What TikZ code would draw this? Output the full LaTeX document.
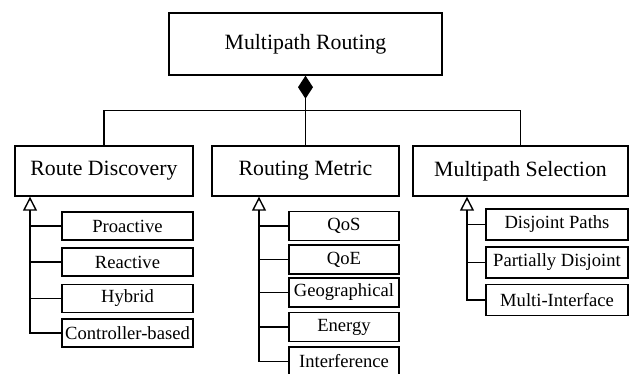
\documentclass[tikz,border=0pt]{standalone}
\usepackage{fontspec}
\setmainfont{Liberation Serif}
\usetikzlibrary{arrows.meta}
\tikzset{
  base/.style={draw, line width=1.4pt, inner sep=0pt, align=center},
  bigbox/.style={base, font=\fontsize{21.8}{26}\selectfont},
  leaf/.style={base, font=\fontsize{18.6}{22}\selectfont},
  wire/.style={line width=1.4pt},
  inherit/.style={wire, -{Triangle[open, length=14pt, width=14pt]}},
  compose/.style={wire, {Diamond[length=23pt, width=15pt]}-}
}
\begin{document}
\begin{tikzpicture}[x=1pt, y=-1pt]
\useasboundingbox (0,0) rectangle (630,373);

% root
\node[bigbox, minimum width=273pt, minimum height=62pt] (root) at (305.5,44) {Multipath Routing};

% second level
\node[bigbox, minimum width=178pt, minimum height=50pt] (rd) at (104,171) {Route Discovery};
\node[bigbox, minimum width=187pt, minimum height=50pt] (rm) at (305.5,171) {Routing Metric};
\node[bigbox, minimum width=215pt, minimum height=50pt] (ms) at (520.5,171) {Multipath Selection};

% route discovery kinds
\node[leaf, minimum width=131pt, minimum height=28pt] (pro) at (127.5,226) {Proactive};
\node[leaf, minimum width=131pt, minimum height=28pt] (rea) at (127.5,262) {Reactive};
\node[leaf, minimum width=131pt, minimum height=28pt] (hyb) at (127.5,298.5) {Hybrid};
\node[leaf, minimum width=131pt, minimum height=28pt] (ctl) at (127.5,333) {Controller-based};

% routing metric kinds
\node[leaf, minimum width=110pt, minimum height=29pt] (qos) at (344,226) {QoS};
\node[leaf, minimum width=110pt, minimum height=29pt] (qoe) at (344,259.5) {QoE};
\node[leaf, minimum width=110pt, minimum height=29pt] (geo) at (344,292.5) {Geographical};
\node[leaf, minimum width=110pt, minimum height=29pt] (ene) at (344,327) {Energy};
\node[leaf, minimum width=110pt, minimum height=29pt] (itf) at (344,361.5) {Interference};

% multipath selection kinds
\node[leaf, minimum width=142pt, minimum height=31pt] (dis) at (557,224.5) {Disjoint Paths};
\node[leaf, minimum width=142pt, minimum height=31pt] (par) at (557,262.5) {Partially Disjoint};
\node[leaf, minimum width=142pt, minimum height=31pt] (mif) at (557,300) {Multi-Interface};

% composition bus
\coordinate (bus) at (0,110.5);
\draw[compose] (root.south) -- (rm.north);
\draw[wire] (rd.north) -- (rd.north |- bus) -- (ms.north |- bus) -- (ms.north);

% inheritance trunks
\coordinate (rdT) at (30,0);
\coordinate (rmT) at (259,0);
\coordinate (msT) at (467,0);

\draw[inherit] (ctl.west) -| (rdT |- rd.south);
\foreach \c in {pro,rea,hyb} \draw[wire] (\c.west) -- (\c.west -| rdT);

\draw[inherit] (itf.west) -| (rmT |- rm.south);
\foreach \c in {qos,qoe,geo,ene} \draw[wire] (\c.west) -- (\c.west -| rmT);

\draw[inherit] (mif.west) -| (msT |- ms.south);
\foreach \c in {dis,par} \draw[wire] (\c.west) -- (\c.west -| msT);
\end{tikzpicture}
\end{document}
